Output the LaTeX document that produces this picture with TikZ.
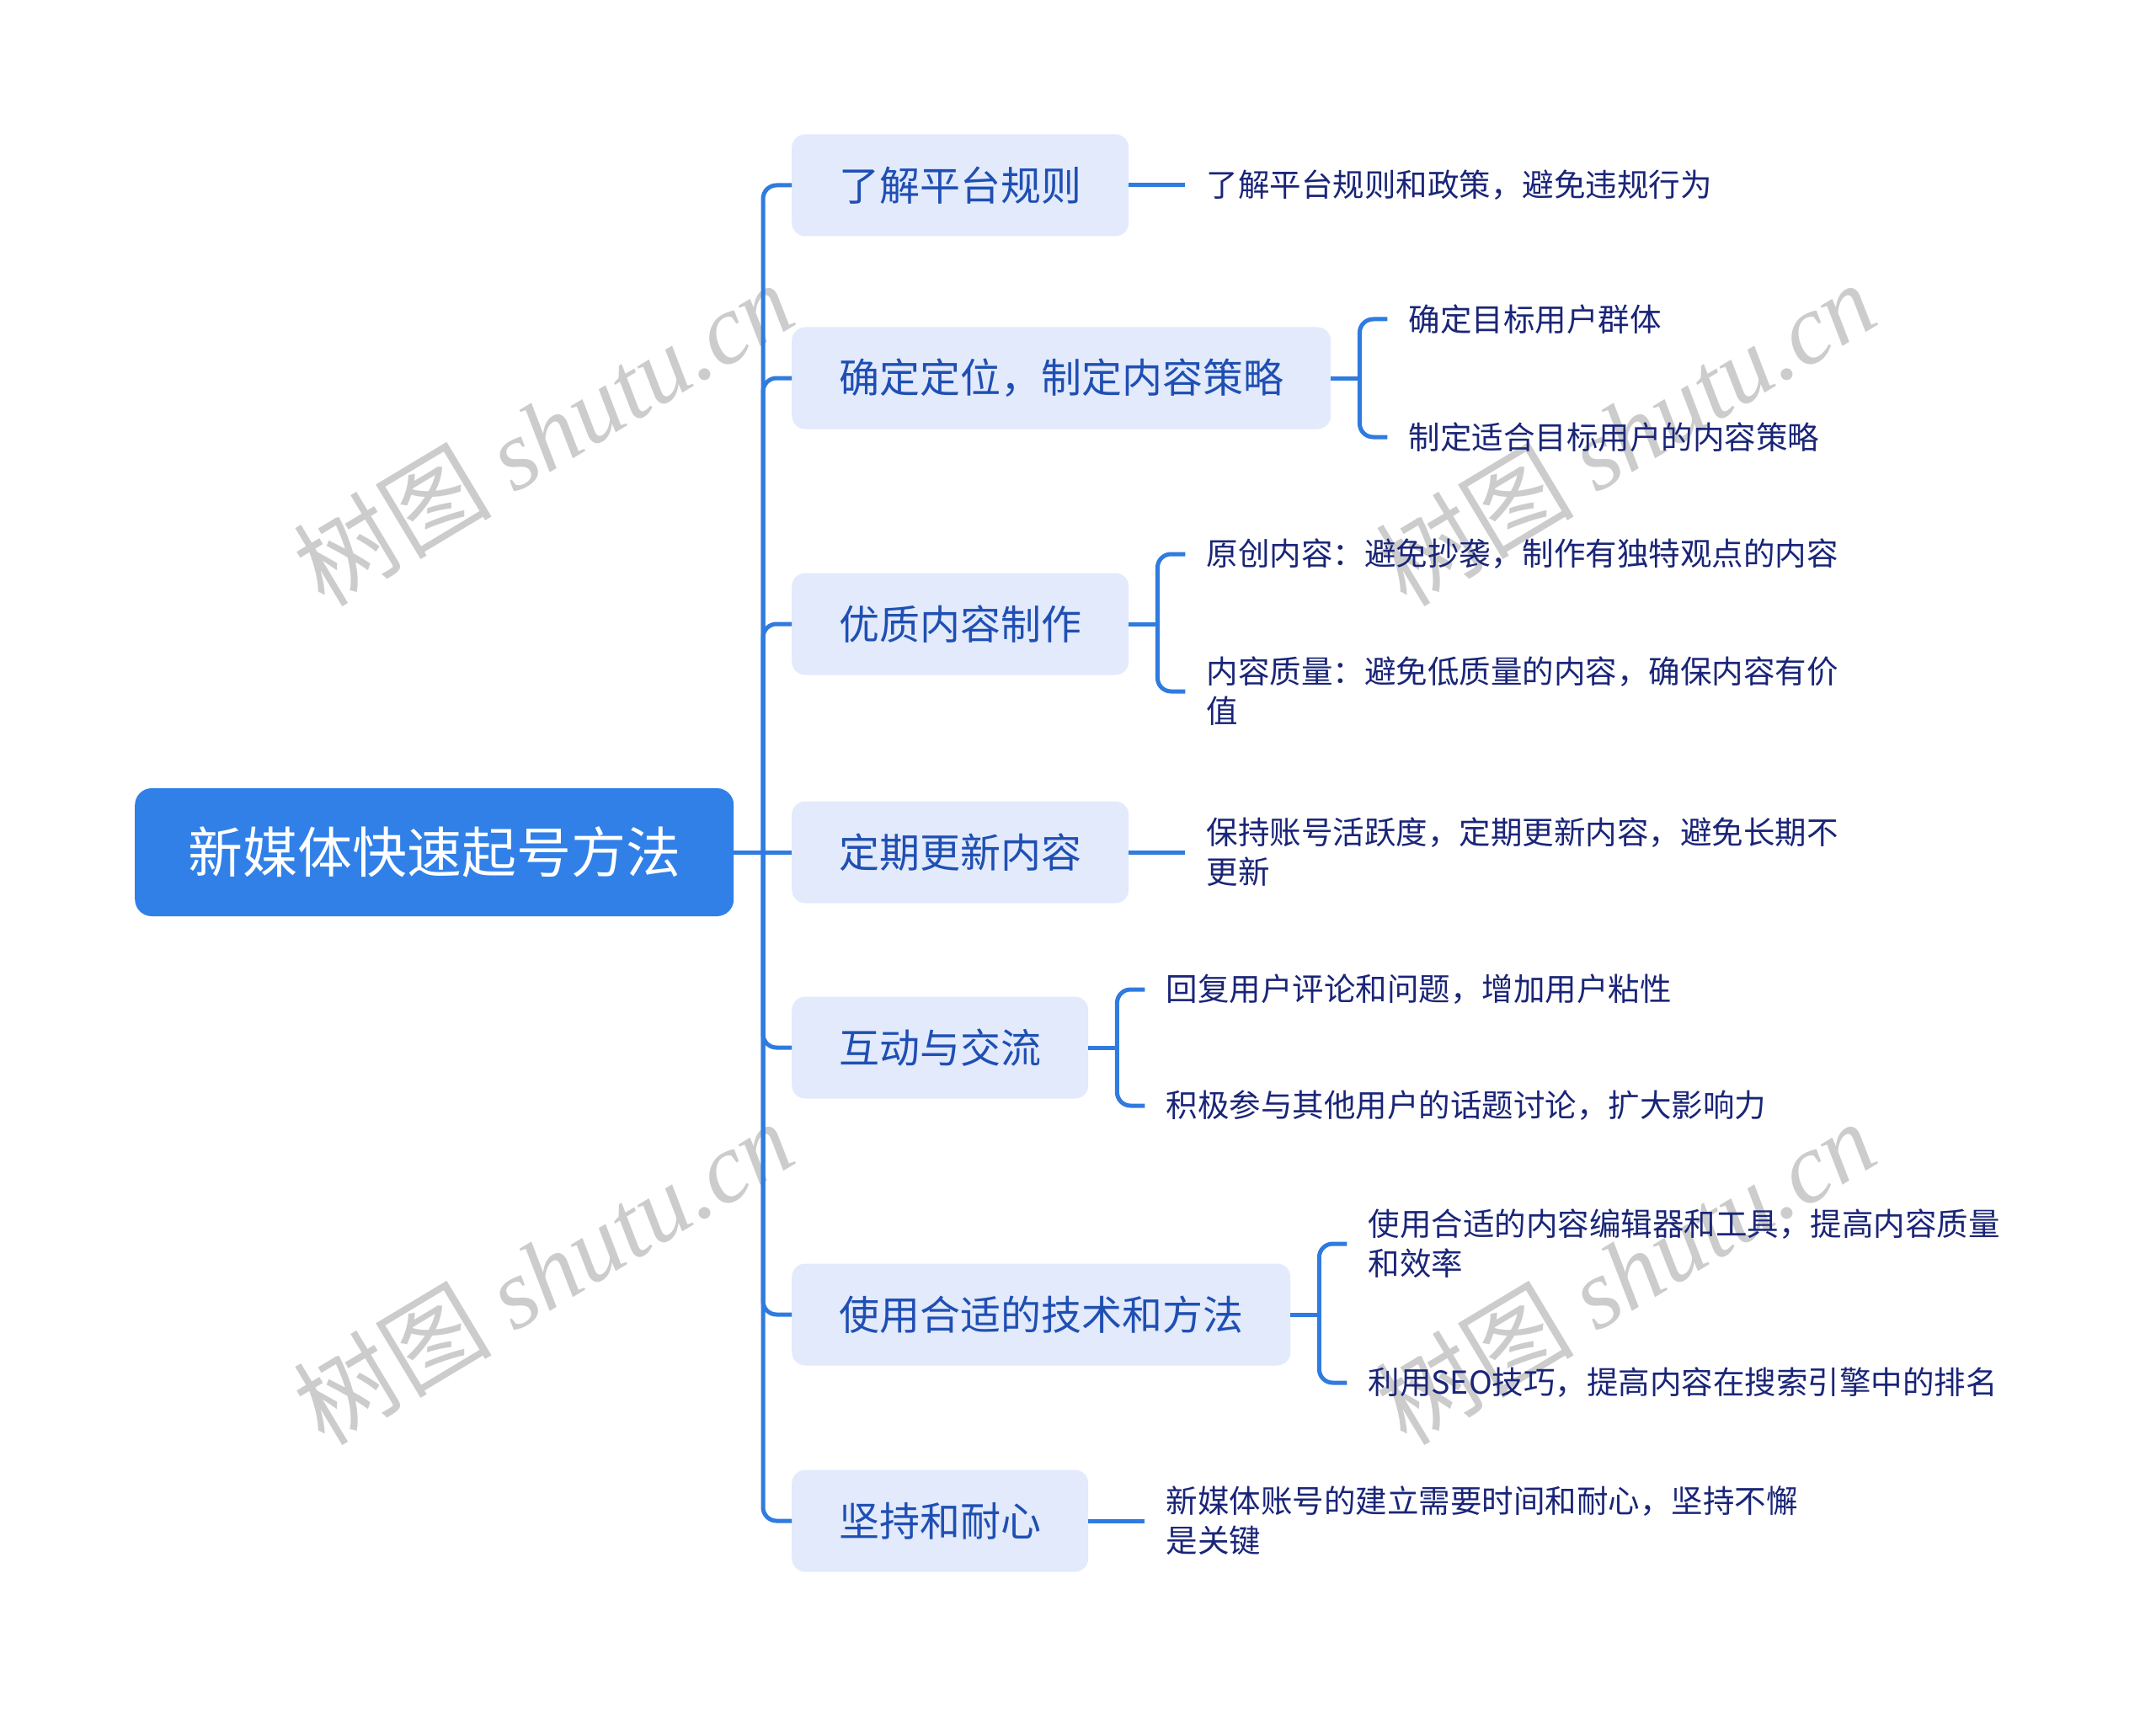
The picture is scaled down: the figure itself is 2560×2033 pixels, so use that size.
\documentclass[tikz,border=0pt]{standalone}
\usepackage{fontspec}
\usetikzlibrary{calc}
\newfontfamily\cjk{Noto Sans CJK SC}
\newfontfamily\wmserif{Liberation Serif}
\definecolor{rootblue}{HTML}{3080E8}
\definecolor{lineblue}{HTML}{2F7BDF}
\definecolor{topicfill}{HTML}{E2EAFB}
\definecolor{topictext}{HTML}{1F4FB3}
\definecolor{leaftext}{HTML}{1A2578}
\definecolor{wmgray}{HTML}{CCCCCC}
\begin{document}
\begin{tikzpicture}[x=1pt,y=-1pt,
  rootbox/.style={rounded corners=20pt, fill=rootblue, text=white, font=\cjk\fontsize{65}{78}\selectfont, minimum height=152pt, inner xsep=63pt, anchor=west},
  topic/.style={rounded corners=16pt, fill=topicfill, text=topictext, font=\cjk\fontsize{48}{58}\selectfont, minimum height=121pt, inner xsep=56pt, anchor=west},
  leaf/.style={text=leaftext, font=\cjk\fontsize{37.5}{47}\selectfont, inner xsep=25pt, inner ysep=4pt, anchor=west, align=left},
  conn/.style={draw=lineblue, line width=5pt, rounded corners=16pt},
  wm/.style={text=wmgray, rotate=31, inner sep=0pt}
]
\useasboundingbox (0,0) rectangle (2560,2033);

% watermarks (behind everything)
\foreach \p/\n in {{(645,514)}/w1,{(1930,514)}/w2,{(645,1510)}/w3,{(1930,1510)}/w4}{
  \node[wm] (\n) at \p {\cjk\fontsize{118}{130}\selectfont 树图 \wmserif\itshape shutu.cn};
}

% root
\node[rootbox] (root) at (160,1012) {新媒体快速起号方法};
\coordinate (hub) at (906,1012);

% topics
\node[topic] (t1) at (940,220)  {了解平台规则};
\node[topic] (t2) at (940,449)  {确定定位，制定内容策略};
\node[topic] (t3) at (940,741)  {优质内容制作};
\node[topic] (t4) at (940,1012) {定期更新内容};
\node[topic] (t5) at (940,1244) {互动与交流};
\node[topic] (t6) at (940,1561) {使用合适的技术和方法};
\node[topic] (t7) at (940,1806) {坚持和耐心};

\draw[conn] (root.east) -- (hub);
\foreach \t in {t1,t2,t3,t5,t6,t7}{
  \draw[conn] (hub) |- (\t.west);
}
\draw[conn] (hub) -- (t4.west);

% leaves
\node[leaf] (l1) at ($(t1.east)+(67,0)$) {了解平台规则和政策，避免违规行为};
\node[leaf] (l2a) at ($(t2.east)+(67,-70)$) {确定目标用户群体};
\node[leaf] (l2b) at ($(t2.east)+(67,70)$) {制定适合目标用户的内容策略};
\node[leaf] (l3a) at ($(t3.east)+(67,-83)$) {原创内容：避免抄袭，制作有独特观点的内容};
\node[leaf] (l3b) at ($(t3.east)+(67,80)$) {内容质量：避免低质量的内容，确保内容有价\\值};
\node[leaf] (l4) at ($(t4.east)+(67,0)$) {保持账号活跃度，定期更新内容，避免长期不\\更新};
\node[leaf] (l5a) at ($(t5.east)+(67,-69)$) {回复用户评论和问题，增加用户粘性};
\node[leaf] (l5b) at ($(t5.east)+(67,69)$) {积极参与其他用户的话题讨论，扩大影响力};
\node[leaf] (l6a) at ($(t6.east)+(67,-84)$) {使用合适的内容编辑器和工具，提高内容质量\\和效率};
\node[leaf] (l6b) at ($(t6.east)+(67,81)$) {利用SEO技巧，提高内容在搜索引擎中的排名};
\node[leaf] (l7) at ($(t7.east)+(67,0)$) {新媒体账号的建立需要时间和耐心，坚持不懈\\是关键};

% connectors to leaves
\draw[conn] (t1.east) -- (l1.west);
\draw[conn] (t4.east) -- (l4.west);
\draw[conn] (t7.east) -- (l7.west);

\coordinate (b2) at ($(t2.east)+(34,0)$);
\coordinate (b3) at ($(t3.east)+(34,0)$);
\coordinate (b5) at ($(t5.east)+(34,0)$);
\coordinate (b6) at ($(t6.east)+(34,0)$);
\draw[conn] (t2.east) -- (b2);
\draw[conn] (b2) |- (l2a.west);
\draw[conn] (b2) |- (l2b.west);
\draw[conn] (t3.east) -- (b3);
\draw[conn] (b3) |- (l3a.west);
\draw[conn] (b3) |- (l3b.west);
\draw[conn] (t5.east) -- (b5);
\draw[conn] (b5) |- (l5a.west);
\draw[conn] (b5) |- (l5b.west);
\draw[conn] (t6.east) -- (b6);
\draw[conn] (b6) |- (l6a.west);
\draw[conn] (b6) |- (l6b.west);
\end{tikzpicture}
\end{document}
